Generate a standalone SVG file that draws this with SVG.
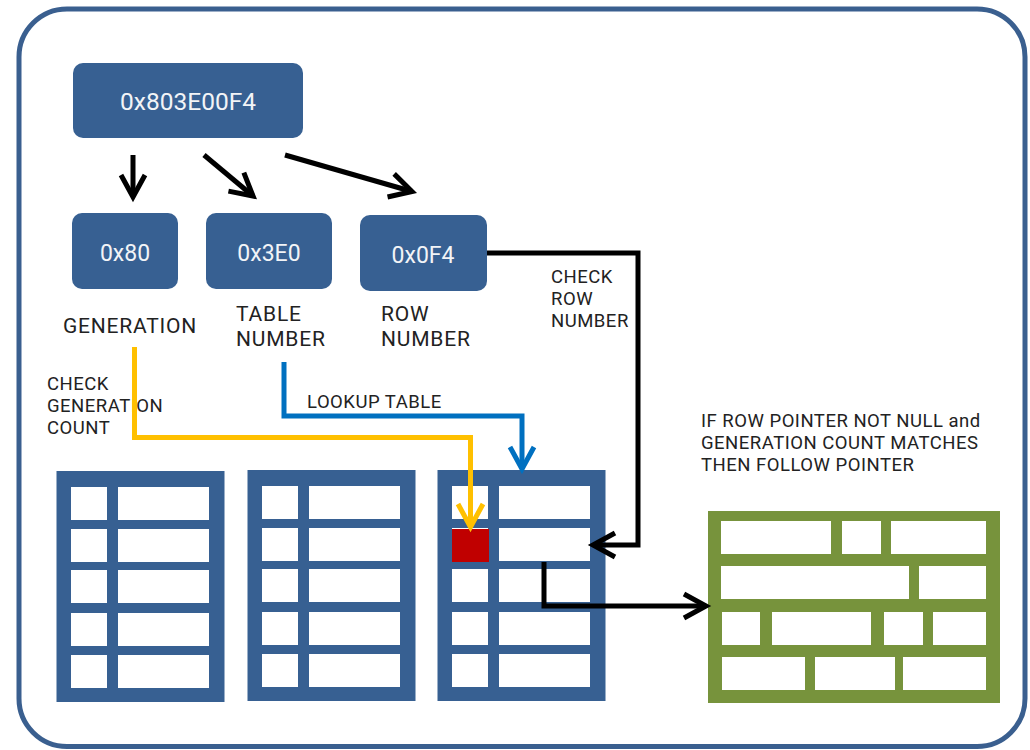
<svg xmlns="http://www.w3.org/2000/svg" xmlns:xlink="http://www.w3.org/1999/xlink" width="1030" height="750" viewBox="0 0 1030 750">
  <style>
    .frame { fill: none; stroke: #3a5f8f; stroke-width: 5; }
    .node { fill: #376092; }
    .node-text { font-family: Roboto, "Open Sans", sans-serif; fill: #f2f4f7; text-anchor: middle; }
    .label { font-family: Roboto, "Open Sans", sans-serif; fill: #222222; }
    .big { font-size: 21px; letter-spacing: 0.8px; }
    .small { font-size: 18.5px; letter-spacing: 0.5px; }
    .cell { fill: #ffffff; }
    .tbl { fill: #376092; }
    .store { fill: #77933c; }
    .link { fill: none; stroke-width: 5; stroke-linejoin: miter; }
    .black { stroke: #000000; }
    .blue { stroke: #0070c0; }
    .yellow { stroke: #ffc000; }
  </style>
  <defs>
    <marker id="head-black" markerUnits="userSpaceOnUse" markerWidth="40" markerHeight="40" refX="0" refY="0" orient="auto" overflow="visible">
      <path d="M -22 -12 L 0 0 L -22 12" fill="none" stroke="#000000" stroke-width="5"/>
    </marker>
    <marker id="head-blue" markerUnits="userSpaceOnUse" markerWidth="40" markerHeight="40" refX="0" refY="0" orient="auto" overflow="visible">
      <path d="M -22 -12 L 0 0 L -22 12" fill="none" stroke="#0070c0" stroke-width="5"/>
    </marker>
    <marker id="head-yellow" markerUnits="userSpaceOnUse" markerWidth="40" markerHeight="40" refX="0" refY="0" orient="auto" overflow="visible">
      <path d="M -23 -12.5 L 0 0 L -23 12.5" fill="none" stroke="#ffc000" stroke-width="5"/>
    </marker>
    <!-- handle table: frame with 5 rows x 2 columns of white cells -->
    <g id="table-grid">
      <rect class="tbl" x="0" y="0" width="168" height="231"/>
      <rect class="cell" x="14.5" y="16" width="36" height="33"/>
      <rect class="cell" x="61.5" y="16" width="91" height="33"/>
      <rect class="cell" x="14.5" y="58" width="36" height="33"/>
      <rect class="cell" x="61.5" y="58" width="91" height="33"/>
      <rect class="cell" x="14.5" y="99" width="36" height="33"/>
      <rect class="cell" x="61.5" y="99" width="91" height="33"/>
      <rect class="cell" x="14.5" y="142" width="36" height="33"/>
      <rect class="cell" x="61.5" y="142" width="91" height="33"/>
      <rect class="cell" x="14.5" y="184" width="36" height="33"/>
      <rect class="cell" x="61.5" y="184" width="91" height="33"/>
    </g>
  </defs>

  <!-- outer rounded frame -->
  <rect class="frame" x="19" y="9" width="1006" height="737.5" rx="48" ry="48"/>

  <!-- full handle value -->
  <g id="handle">
    <rect class="node" x="73" y="63" width="230" height="75" rx="10" ry="10"/>
    <text class="node-text" x="188" y="110" font-size="24.5">0x803E00F4</text>
  </g>

  <!-- handle fields -->
  <g id="generation">
    <rect class="node" x="72" y="213" width="106" height="76" rx="10" ry="10"/>
    <text class="node-text" x="125" y="261" font-size="23">0x80</text>
    <text class="label big" x="63" y="333">GENERATION</text>
  </g>
  <g id="table-number">
    <rect class="node" x="206" y="213" width="126" height="76" rx="10" ry="10"/>
    <text class="node-text" x="269" y="261" font-size="23">0x3E0</text>
    <text class="label big" x="236" y="321">TABLE<tspan x="236" dy="25">NUMBER</tspan></text>
  </g>
  <g id="row-number">
    <rect class="node" x="360" y="215" width="127" height="76" rx="10" ry="10"/>
    <text class="node-text" x="423" y="263" font-size="23">0x0F4</text>
    <text class="label big" x="381" y="321">ROW<tspan x="381" dy="25">NUMBER</tspan></text>
  </g>

  <!-- handle tables -->
  <g id="table-1">
    <use xlink:href="#table-grid" href="#table-grid" x="56.5" y="471"/>
  </g>
  <g id="table-2">
    <use xlink:href="#table-grid" href="#table-grid" x="247.5" y="470"/>
  </g>
  <g id="table-3">
    <use xlink:href="#table-grid" href="#table-grid" x="437.5" y="470"/>
    <rect x="452" y="529" width="37" height="33" fill="#c00000"/>
  </g>

  <!-- object storage -->
  <g id="object">
    <rect class="store" x="708" y="511" width="292" height="192"/>
    <rect class="cell" x="721" y="521" width="110" height="33"/>
    <rect class="cell" x="842" y="521" width="39" height="33"/>
    <rect class="cell" x="891" y="521" width="95" height="33"/>
    <rect class="cell" x="721" y="566" width="188" height="33"/>
    <rect class="cell" x="919" y="566" width="67" height="33"/>
    <rect class="cell" x="722" y="612" width="38" height="33"/>
    <rect class="cell" x="772" y="612" width="99" height="33"/>
    <rect class="cell" x="884" y="612" width="39" height="33"/>
    <rect class="cell" x="933" y="612" width="53" height="33"/>
    <rect class="cell" x="722" y="657" width="83" height="33"/>
    <rect class="cell" x="815" y="657" width="80" height="33"/>
    <rect class="cell" x="903" y="657" width="83" height="33"/>
  </g>

  <!-- connector labels -->
  <g id="labels">
    <text class="label small" x="551" y="283">CHECK<tspan x="551" dy="22">ROW</tspan><tspan x="551" dy="22">NUMBER</tspan></text>
    <text class="label small" x="47" y="390">CHECK<tspan x="47" dy="22">GENERATION</tspan><tspan x="47" dy="22">COUNT</tspan></text>
    <text class="label small" x="307" y="408">LOOKUP TABLE</text>
    <text class="label small" x="701" y="427">IF ROW POINTER NOT NULL and<tspan x="701" dy="22">GENERATION COUNT MATCHES</tspan><tspan x="701" dy="22">THEN FOLLOW POINTER</tspan></text>
  </g>

  <!-- connectors -->
  <g id="connectors">
    <path class="link black" d="M 133 155 L 133 197" marker-end="url(#head-black)"/>
    <path class="link black" d="M 204 155 L 253 196" marker-end="url(#head-black)"/>
    <path class="link black" d="M 285 155 L 412 191.5" marker-end="url(#head-black)"/>
    <path class="link black" d="M 487 253 L 638 253 L 638 545 L 593 545" marker-end="url(#head-black)"/>
    <path class="link black" d="M 544 562 L 544 606 L 706 606" marker-end="url(#head-black)"/>
    <path class="link blue" d="M 284 362 L 284 416 L 522 416 L 522 469" marker-end="url(#head-blue)"/>
    <path class="link yellow" d="M 134.5 347 L 134.5 437.5 L 470.5 437.5 L 470.5 527" marker-end="url(#head-yellow)"/>
  </g>
</svg>
